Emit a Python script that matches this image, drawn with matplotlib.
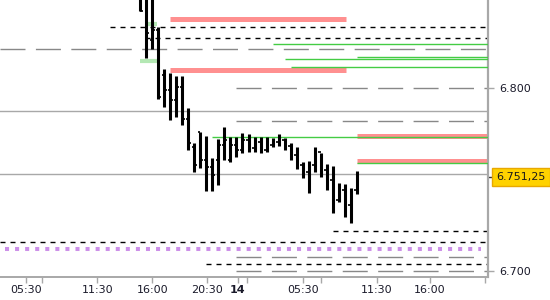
import matplotlib
matplotlib.use('Agg')
import matplotlib.pyplot as plt
from matplotlib.ticker import FixedLocator

# OHLC bars (30 min), x = bar index
bar_x = list(range(37))
bar_open = [6.8524, 6.8507, 6.8262, 6.8316, 6.8071, 6.7989, 6.7935, 6.8005, 6.7831, 6.7678,
            6.7760, 6.7607, 6.7569, 6.7607, 6.7689, 6.7607, 6.7689, 6.7662, 6.7716, 6.7673,
            6.7705, 6.7662, 6.7689, 6.7705, 6.7716, 6.7684, 6.7635, 6.7580, 6.7542, 6.7580,
            6.7651, 6.7553, 6.7498, 6.7389, 6.7444, 6.7362, 6.7444]
bar_high = [6.8562, 6.8535, 6.8507, 6.8333, 6.8104, 6.8082, 6.8065, 6.8065, 6.7891, 6.7700,
            6.7760, 6.7740, 6.7618, 6.7722, 6.7787, 6.7733, 6.7733, 6.7755, 6.7749, 6.7733,
            6.7733, 6.7733, 6.7727, 6.7749, 6.7727, 6.7700, 6.7678, 6.7596, 6.7602, 6.7678,
            6.7645, 6.7585, 6.7575, 6.7482, 6.7476, 6.7455, 6.7547]
bar_low = [6.8420, 6.8164, 6.8213, 6.7940, 6.7896, 6.7825, 6.7842, 6.7798, 6.7662, 6.7542,
           6.7564, 6.7438, 6.7438, 6.7471, 6.7607, 6.7596, 6.7624, 6.7645, 6.7651, 6.7651,
           6.7645, 6.7651, 6.7678, 6.7684, 6.7662, 6.7607, 6.7558, 6.7509, 6.7427, 6.7542,
           6.7515, 6.7444, 6.7318, 6.7378, 6.7296, 6.7264, 6.7422]
bar_close = [6.8420, 6.8300, 6.8316, 6.7951, 6.7989, 6.7935, 6.8005, 6.7831, 6.7700, 6.7580,
             6.7607, 6.7569, 6.7525, 6.7689, 6.7716, 6.7689, 6.7662, 6.7716, 6.7673, 6.7705,
             6.7662, 6.7689, 6.7705, 6.7716, 6.7684, 6.7635, 6.7580, 6.7542, 6.7580, 6.7651,
             6.7553, 6.7498, 6.7389, 6.7444, 6.7362, 6.7444, 6.75125]
last_price = 6.75125

XMIN, XMAX = -23.33, 57.83
YMIN, YMAX = 6.6969, 6.8480

# horizontal levels
red_levels = [6.8376, 6.8098, 6.7740, 6.7600]
red_start = [5.0, 5.0, 36.0, 36.0]
red_end = [34.2, 34.2, XMAX, XMAX]

black_levels = [6.8333, 6.8270, 6.7220, 6.7160, 6.7040]
black_start = [-5.0, 0.8, 32.0, XMIN, 11.0]

gray_dash_levels = [6.8210, 6.8000, 6.7820, 6.7080, 6.7000]
gray_dash_start = [XMIN, 16.0, 16.0, 16.0, 16.0]

gray_solid_levels = [6.7875, 6.7530]

green_levels = [6.8240, 6.8167, 6.8157, 6.8113, 6.7735, 6.7590]
green_start = [22.0, 36.0, 24.0, 25.0, 12.0, 36.0]

lightgreen_levels = [6.8348, 6.8147]
lightgreen_start = [0.8, 0.0]
lightgreen_end = [2.8, 2.7]

purple_level = 6.7120

xtick_pos = [-19.05, -7.17, 2.0, 11.17, 16.17, 27.0, 39.33, 48.17]
xtick_labels = ['05:30', '11:30', '16:00', '20:30', '14', '05:30', '11:30', '16:00']
xminor_pos = [-16.33, 17.83, 30.0, 57.33]

fig = plt.figure(figsize=(5.5, 3), dpi=100)
ax = fig.add_axes([0, 23 / 300, 488 / 550, 277 / 300])

for y in gray_solid_levels:
    ax.axhline(y, color='#a8a8a8', lw=1.0, zorder=1)
for y, x0 in zip(gray_dash_levels, gray_dash_start):
    ax.hlines(y, x0, XMAX, color='#888888', lw=1.0, linestyles=(0, (18, 7.5)), zorder=1)
for y, x0 in zip(black_levels, black_start):
    ax.hlines(y, x0, XMAX, color='black', lw=1.0, linestyles=(0, (3.6, 3.6)), zorder=2)
for y, x0, x1 in zip(red_levels, red_start, red_end):
    ax.hlines(y, x0, x1, color='#ff9090', lw=3.6, zorder=2)
for y, x0 in zip(green_levels, green_start):
    ax.hlines(y, x0, XMAX, color='#44cc44', lw=1.0, zorder=3)
for y, x0, x1 in zip(lightgreen_levels, lightgreen_start, lightgreen_end):
    ax.hlines(y, x0, x1, color='#b4e8b4', lw=3.0, zorder=2)
ax.hlines(purple_level, XMIN + 0.8, XMAX - 1.2, color='#cc90e8', lw=2.9,
          linestyles=(0, (1, 1.5)), zorder=2)

# bars
ax.vlines(bar_x, bar_low, bar_high, color='black', lw=2.2, zorder=4)
for x, o, c in zip(bar_x, bar_open, bar_close):
    ax.hlines(o, x - 0.45, x, color='black', lw=1.2, zorder=4)
    ax.hlines(c, x, x + 0.45, color='black', lw=1.2, zorder=4)

ax.set_xlim(XMIN, XMAX)
ax.set_ylim(YMIN, YMAX)

for s in ['top', 'left']:
    ax.spines[s].set_visible(False)
ax.spines['right'].set_color('#a8a8a8')
ax.spines['right'].set_linewidth(1.6)
ax.spines['bottom'].set_color('#a8a8a8')
ax.spines['bottom'].set_linewidth(1.4)

ax.xaxis.set_major_locator(FixedLocator(xtick_pos))
ax.set_xticklabels(xtick_labels)
ax.xaxis.set_minor_locator(FixedLocator(xminor_pos))
ax.tick_params(axis='x', which='both', length=4, width=1, color='#a8a8a8',
               labelsize=8, labelcolor='#1a1a2a', pad=2)
ax.get_xticklabels()[4].set_fontweight('bold')

ax.yaxis.tick_right()
ax.set_yticks([6.700, 6.800])
ax.set_yticklabels(['6.700', '6.800'])
ax.tick_params(axis='y', length=4, width=1, color='#a8a8a8', labelsize=8,
               labelcolor='#1a1a2a', pad=4)

# last price marker
tr = ax.get_yaxis_transform()
ax.plot([1.0, 1.012], [last_price, last_price], transform=tr, color='#333333',
        lw=1, clip_on=False)
ax.text(1.017, last_price, '6.751,25', transform=tr, ha='left', va='center',
        fontsize=8, color='#1a1a1a',
        bbox=dict(boxstyle='square,pad=0.35', fc='#ffd200', ec='#e8a800', lw=1))

fig.savefig('out.png', dpi=100)
